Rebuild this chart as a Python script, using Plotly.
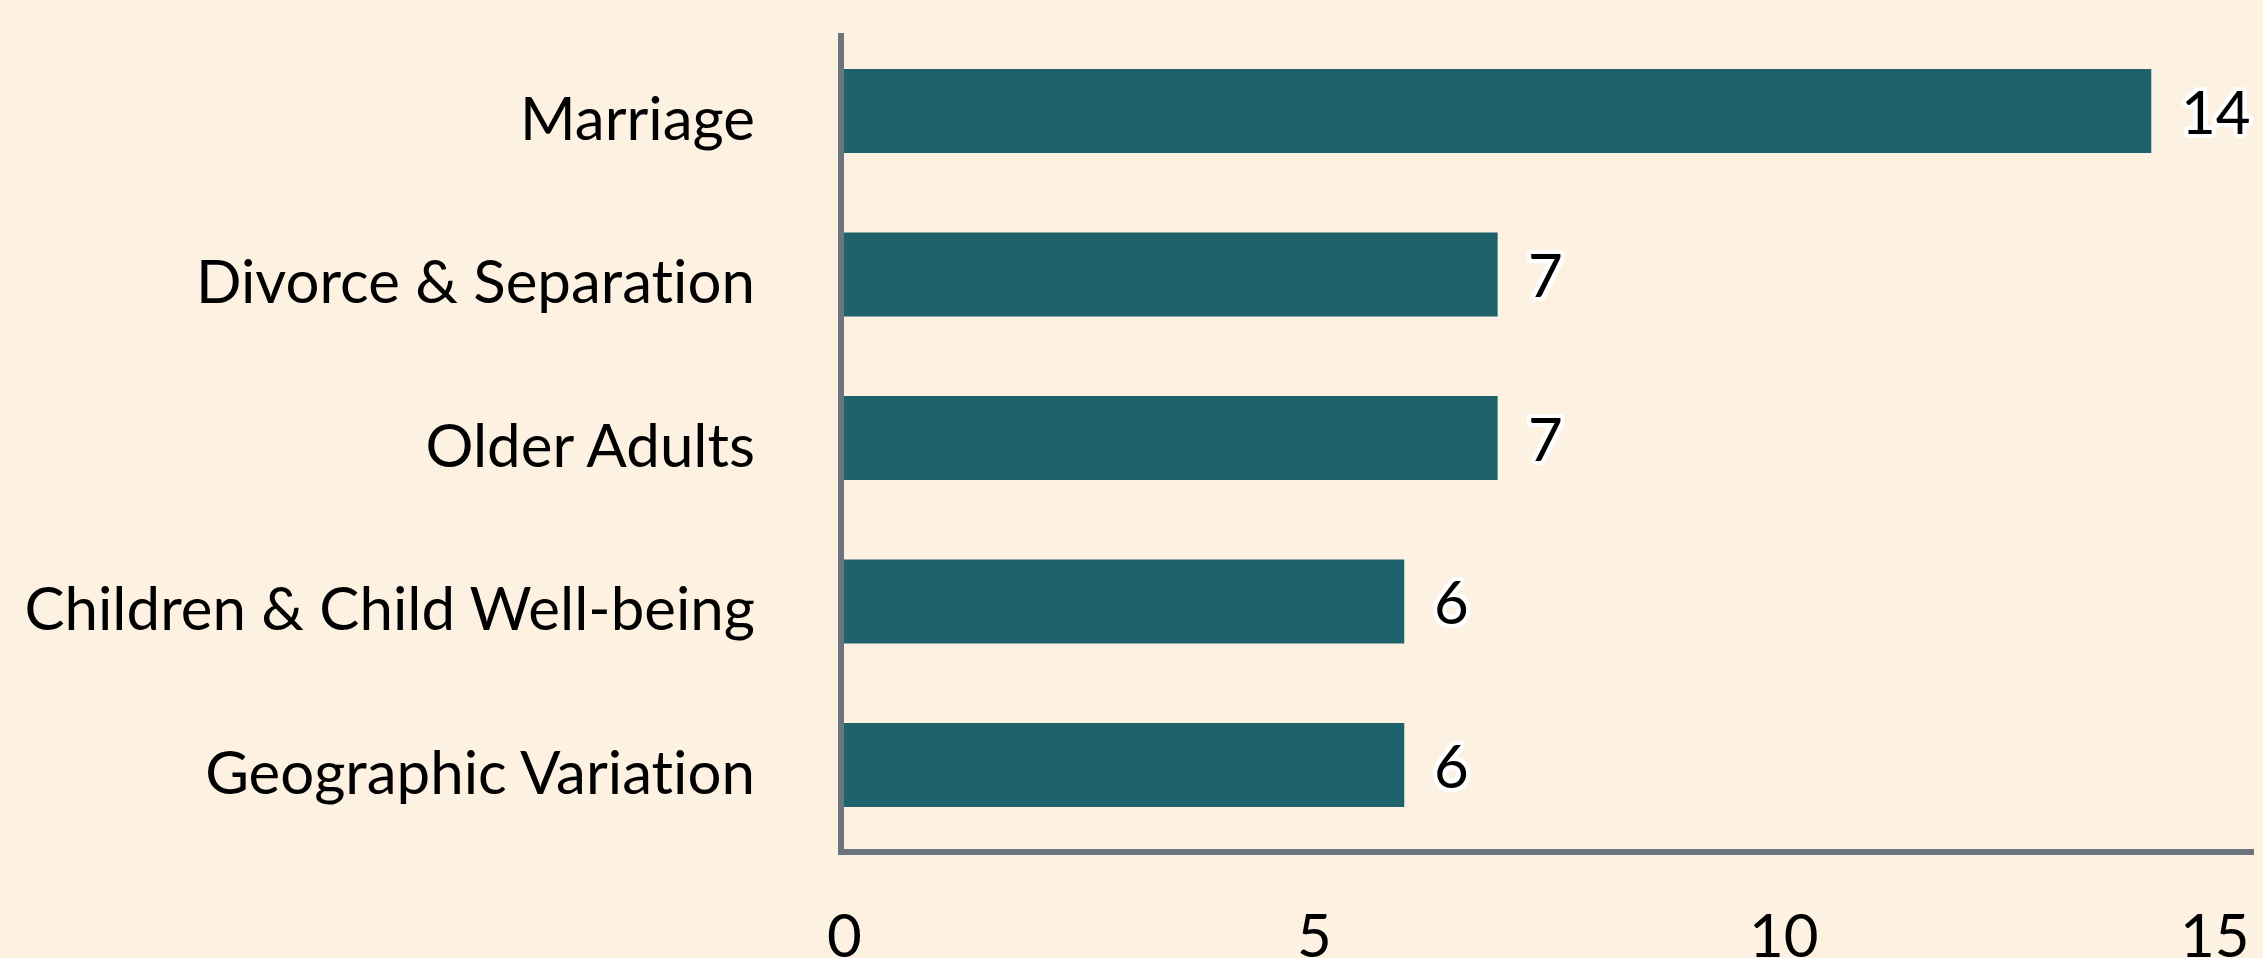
import plotly.graph_objects as go

categories = ["Marriage", "Divorce & Separation", "Older Adults",
              "Children & Child Well-being", "Geographic Variation"]
values = [14, 7, 7, 6, 6]
x_ticks = [0, 5, 10, 15]
x_tick_labels = ["0", "5", "10", "15"]

W, H = 2263, 958
L, R, T, B = 844, 9, 33, 109
FONT = "Lato"
BG = "#FDF1E1"
BAR = "#1E626B"
AXIS = "#6C757D"
FS = 60

halo = ", ".join(f"{dx}px {dy}px 0 #ffffff" for dx, dy in
                 [(-4, 0), (4, 0), (0, -4), (0, 4), (-3, -3), (3, -3), (-3, 3), (3, 3),
                  (-2, -3), (2, -3), (-2, 3), (2, 3), (-3, 2), (3, 2), (-3, -2), (3, -2),
                  (-4, -1), (4, -1), (-4, 1), (4, 1), (-1, -4), (1, -4), (-1, 4), (1, 4),
                  (-4, -2), (4, -2), (-4, 2), (4, 2), (-2, -4), (2, -4), (-2, 4), (2, 4)])

fig = go.Figure(go.Bar(
    x=values, y=categories, orientation="h",
    marker=dict(color=BAR, line=dict(width=0)),
    width=0.514, hoverinfo="skip",
))

annotations = []
for c, v in zip(categories, values):
    annotations.append(dict(
        x=v, y=c, xref="x", yref="y", text=str(v), showarrow=False,
        xanchor="left", yanchor="middle", xshift=28,
        font=dict(family=FONT, size=FS, color="#000000", shadow=halo),
    ))
tick_max = x_ticks[-1]
for i, (tv, tt) in enumerate(zip(x_ticks, x_tick_labels)):
    last = i == len(x_ticks) - 1
    annotations.append(dict(
        x=tv / tick_max, y=-0.1042, xref="paper", yref="paper", text=tt, showarrow=False,
        xanchor="right" if last else "center", yanchor="middle", xshift=-2 if last else 0,
        font=dict(family=FONT, size=FS, color="#000000"),
    ))

fig.update_layout(
    width=W, height=H,
    margin=dict(l=L, r=R, t=T, b=B, pad=0, autoexpand=False),
    paper_bgcolor=BG, plot_bgcolor=BG,
    showlegend=False,
    font=dict(family=FONT, size=FS, color="#000000"),
    annotations=annotations,
    xaxis=dict(range=[0, 15.1], showgrid=False, zeroline=False, automargin=False,
               showticklabels=False, ticks="", showline=True,
               linecolor=AXIS, linewidth=6, fixedrange=True),
    yaxis=dict(range=[4.514, -0.477], showgrid=False, zeroline=False, automargin=False,
               ticks="", showline=True, linecolor=AXIS, linewidth=6,
               ticklabelstandoff=71, ticklabelshift=-8,
               tickfont=dict(family=FONT, size=FS, color="#000000"),
               fixedrange=True),
)

post = (
    "document.body.style.margin='0';document.body.style.overflow='hidden';"
    "var s=document.createElement('style');"
    "s.textContent='text{font-variant-ligatures:none !important;font-feature-settings:\"liga\" 0,\"clig\" 0 !important;}';"
    "document.head.appendChild(s);"
)
fig.write_html("out.html", config={"displayModeBar": False}, post_script=post)
